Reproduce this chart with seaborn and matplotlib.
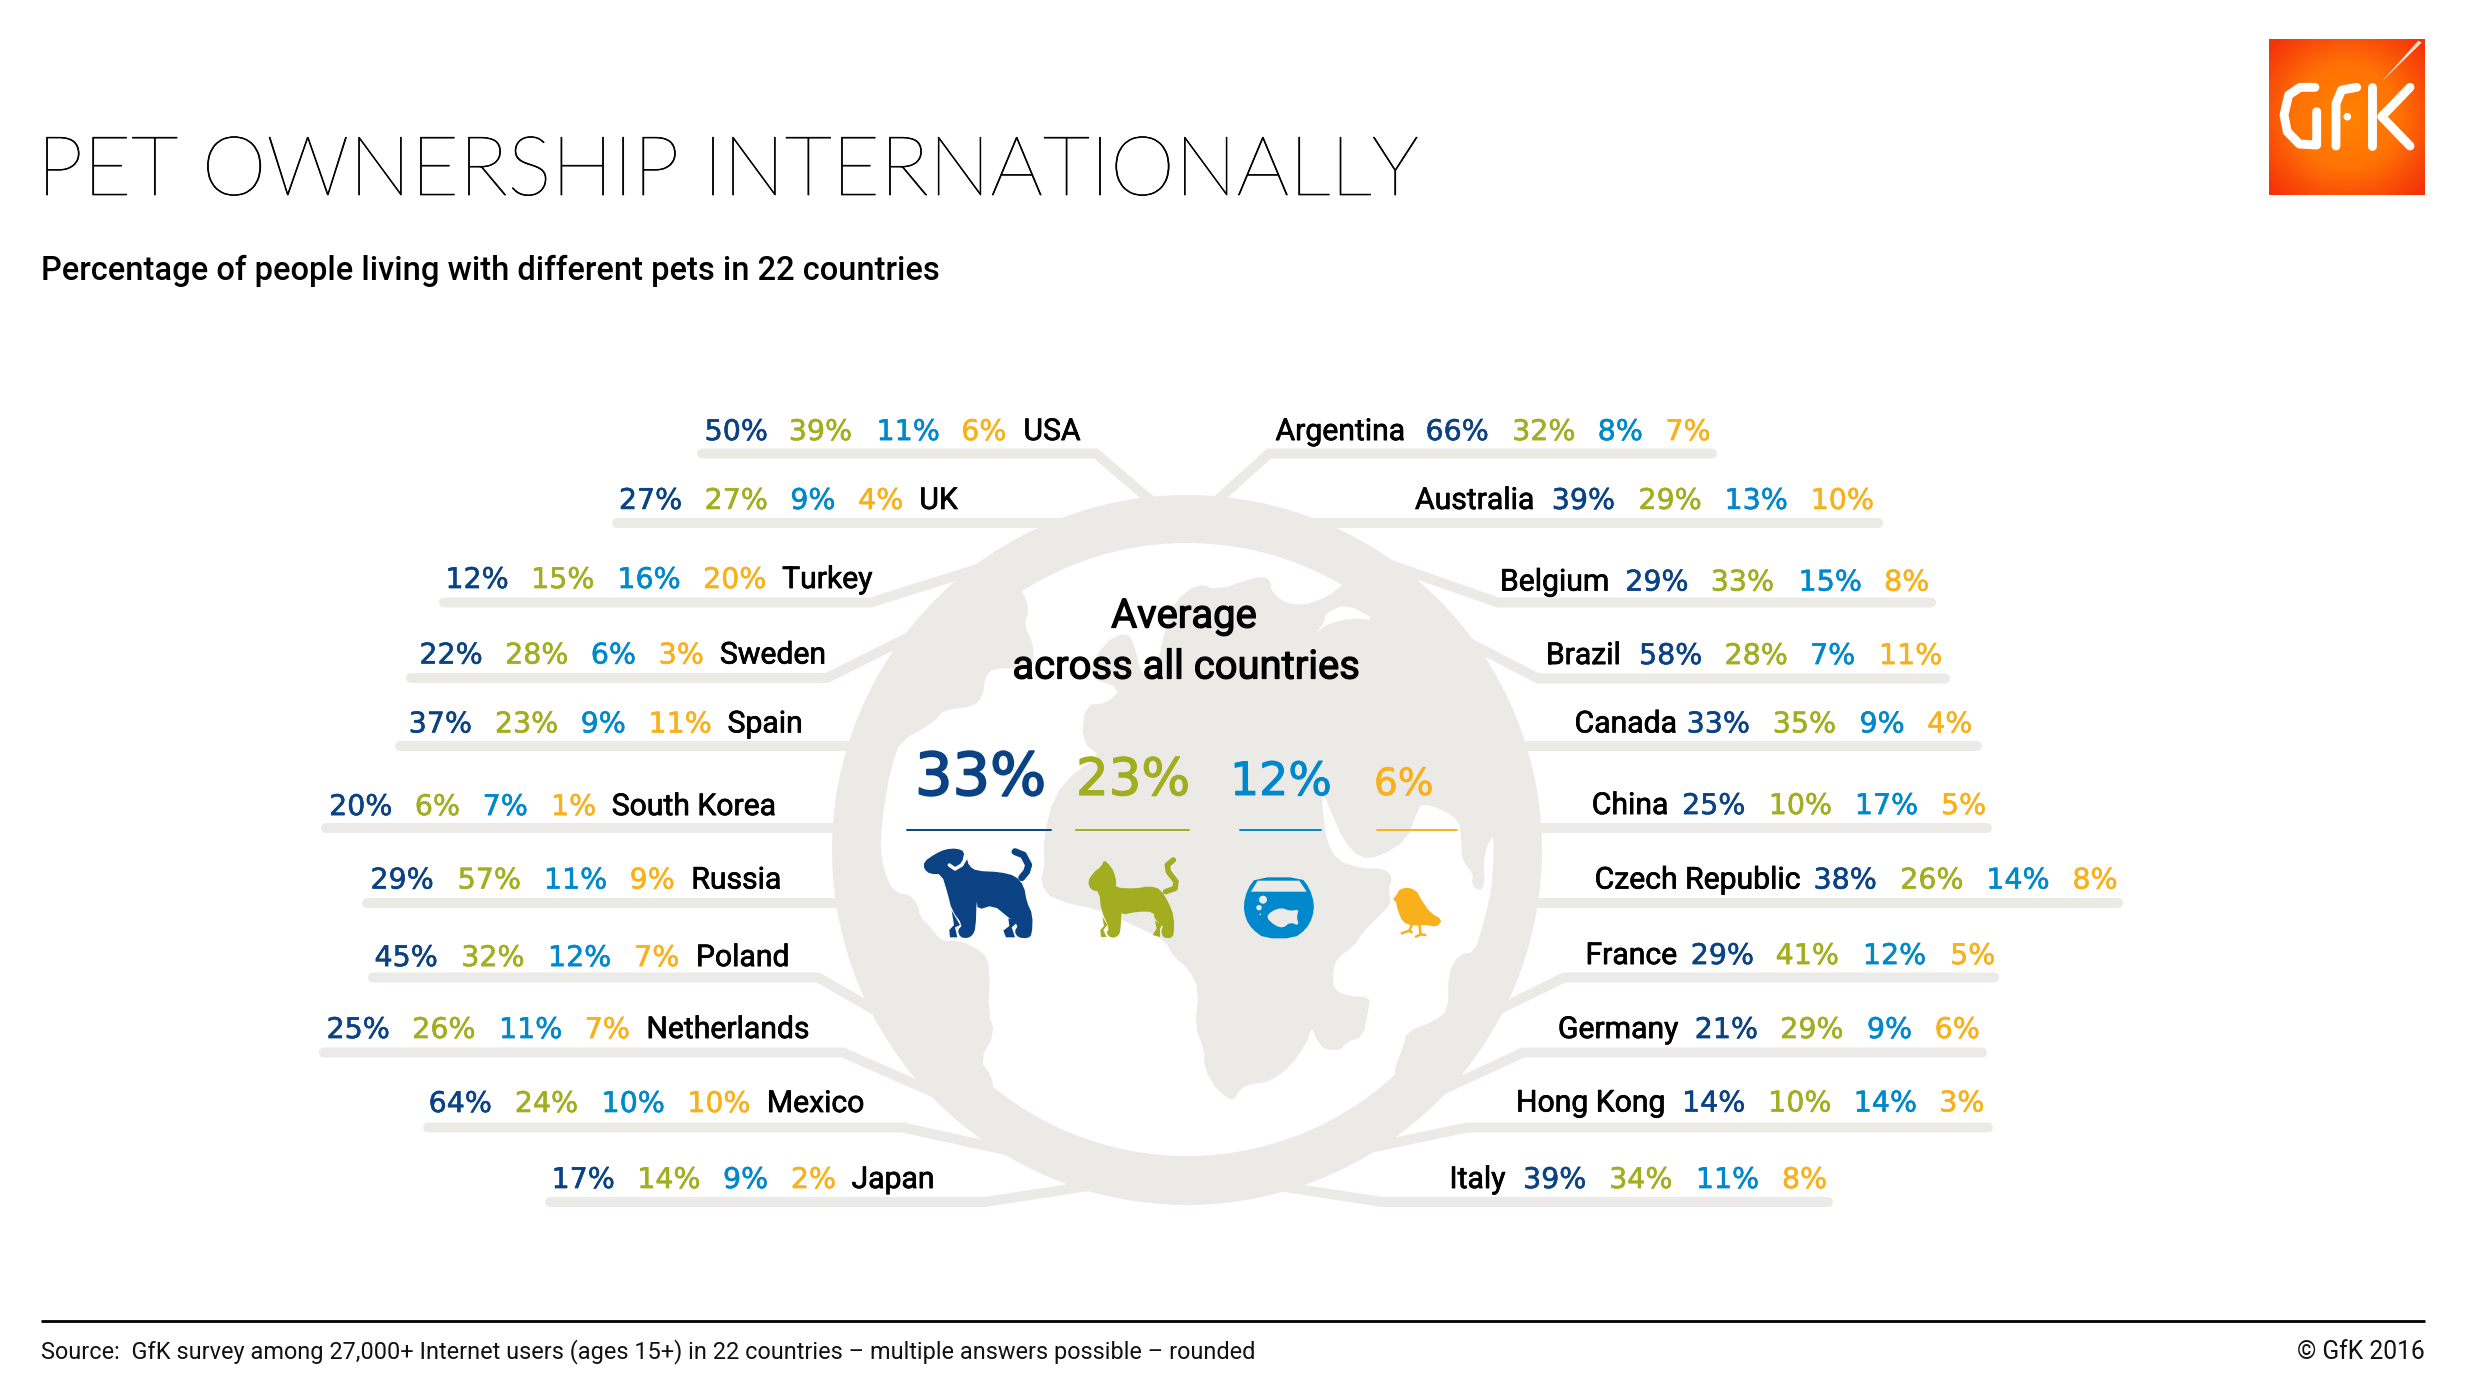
import numpy as np
import pandas as pd
import matplotlib
matplotlib.use("Agg")
import matplotlib.pyplot as plt
import matplotlib.patheffects as pe
from matplotlib.colors import LinearSegmentedColormap
from matplotlib.patches import Circle, Polygon
import seaborn as sns

# ---------- data ----------
countries_left = ["USA", "UK", "Turkey", "Sweden", "Spain", "South Korea", "Russia",
                  "Poland", "Netherlands", "Mexico", "Japan"]
dogs_left = [50, 27, 12, 22, 37, 20, 29, 45, 25, 64, 17]
cats_left = [39, 27, 15, 28, 23, 6, 57, 32, 26, 24, 14]
fish_left = [11, 9, 16, 6, 9, 7, 11, 12, 11, 10, 9]
birds_left = [6, 4, 20, 3, 11, 1, 9, 7, 7, 10, 2]

countries_right = ["Argentina", "Australia", "Belgium", "Brazil", "Canada", "China",
                   "Czech Republic", "France", "Germany", "Hong Kong", "Italy"]
dogs_right = [66, 39, 29, 58, 33, 25, 38, 29, 21, 14, 39]
cats_right = [32, 29, 33, 28, 35, 10, 26, 41, 29, 10, 34]
fish_right = [8, 13, 15, 7, 9, 17, 14, 12, 9, 14, 11]
birds_right = [7, 10, 8, 11, 4, 5, 8, 5, 6, 3, 8]

average_values = [33, 23, 12, 6]

TITLE = "PET OWNERSHIP INTERNATIONALLY"
SUBTITLE = "Percentage of people living with different pets in 22 countries"
SOURCE = "Source:  GfK survey among 27,000+ Internet users (ages 15+) in 22 countries \u2013 multiple answers possible \u2013 rounded"
COPYRIGHT = "\u00a9 GfK 2016"

# ---------- layout and style (separate from the data) ----------
NAVY, GREEN, BLUE, ORANGE = "#0A4284", "#A2AD1F", "#0088CC", "#F9B11B"
PET_COLORS = [NAVY, GREEN, BLUE, ORANGE]
GREY = "#EBEAE7"
W, H = 2478, 1376

sns.set_theme(style="white")
plt.rcParams["font.family"] = ["Noto Sans", "DejaVu Sans"]

fig = plt.figure(figsize=(W / 100, H / 100), dpi=100, facecolor="white")
ax = fig.add_axes([0, 0, 1, 1])


def zl(x): return 300 + x / 1.96
def zr(x): return 1260 + x / 1.742
def zy(y): return 400 + y / 1.96
def z5(p): return [(820 + x / 3, 840 + y / 3) for x, y in p]
def z6(p): return [(1150 + x / 3, 840 + y / 3) for x, y in p]
def z7(p): return [(820 + x / 3, 480 + y / 3) for x, y in p]
def z8(p): return [(1150 + x / 3, 480 + y / 3) for x, y in p]


def chaikin(pts, n=2):
    p = np.asarray(pts, float)
    for _ in range(n):
        q = np.roll(p, -1, axis=0)
        p = np.column_stack([0.75 * p + 0.25 * q, 0.25 * p + 0.75 * q]).reshape(-1, 2)
    return p


def poly(pts, color, z=2, smooth=1):
    ax.add_patch(Polygon(chaikin(pts, smooth) if smooth else pts, closed=True,
                         fc=color, ec="none", zorder=z))


def heavier(width, color):
    return [pe.withStroke(linewidth=width, foreground=color)]


# leaders: (country, [(x, y), ...])
leader_paths = [
    ("USA", [(702, 453.6), (1096, 453.6), (1156, 505)]),
    ("UK", [(617, 523), (1065, 523)]),
    ("Turkey", [(444, 602.5), (871, 602.5), (990, 565)]),
    ("Sweden", [(411, 678), (827, 678), (915, 634)]),
    ("Spain", [(400, 746), (860, 746)]),
    ("South Korea", [(326, 828), (850, 828)]),
    ("Russia", [(367, 903), (850, 903)]),
    ("Poland", [(373, 977.5), (818, 977.5), (885, 1016)]),
    ("Netherlands", [(324, 1052.5), (843, 1052.5), (935, 1093)]),
    ("Mexico", [(428, 1127.5), (903, 1127.5), (1010, 1151)]),
    ("Japan", [(550, 1202), (985, 1202), (1095, 1185)]),
    ("Argentina", [(1712, 453.6), (1269, 453.6), (1212, 505)]),
    ("Australia", [(1878, 523), (1310, 523)]),
    ("Belgium", [(1931, 602.5), (1498, 602.5), (1385, 563)]),
    ("Brazil", [(1945, 678.5), (1538, 678.5), (1460, 638)]),
    ("Canada", [(1977, 746), (1515, 746)]),
    ("China", [(1987, 828), (1525, 828)]),
    ("Czech Republic", [(2118, 903), (1525, 903)]),
    ("France", [(1994, 977.5), (1564, 977.5), (1490, 1014)]),
    ("Germany", [(1982, 1052.5), (1523, 1052.5), (1440, 1091)]),
    ("Hong Kong", [(1988, 1127.5), (1467, 1127.5), (1365, 1149)]),
    ("Italy", [(1828, 1202), (1382, 1202), (1278, 1186)]),
]
leaders = pd.DataFrame(
    [(c, i, x, y) for c, pts in leader_paths for i, (x, y) in enumerate(pts)],
    columns=["country", "step", "x", "y"])

# ring
CX, CY = 1187, 850
ax.add_patch(Circle((CX, CY), 355, fc=GREY, ec="none", zorder=1))
ax.add_patch(Circle((CX, CY - 0.5), 306.5, fc="white", ec="none", zorder=1))

sns.lineplot(data=leaders, x="x", y="y", units="country", estimator=None, sort=False,
             color=GREY, lw=7.2, solid_capstyle="round", solid_joinstyle="miter",
             legend=False, ax=ax, zorder=1)

# continents
land_west = (
    z7([(605, 330), (628, 385), (612, 435), (640, 490), (640, 545), (620, 565), (520, 565),
        (495, 590), (488, 650), (460, 680), (370, 690), (345, 725), (240, 785), (215, 850),
        (195, 960), (183, 1060)])
    + z5([(183, 50), (205, 130), (235, 160), (270, 165), (295, 195), (300, 230), (335, 265),
          (365, 305), (415, 300), (490, 335), (510, 380), (505, 520), (525, 580), (480, 660),
          (515, 710), (520, 745)])
    + [(979, 1106), (902, 1015), (857, 850), (902, 685), (1010, 572)])
poly(land_west, GREY)

land_east = (
    z7([(1060, 370), (1130, 310)])
    + z8([(205, 330), (320, 290), (360, 295), (365, 340), (420, 375), (490, 370), (565, 330)])
    + [(1357, 567), (1472, 685), (1512, 800), (1500, 835)]
    + z6([(1015, 0), (1000, 70), (1005, 130), (990, 155), (965, 135), (970, 100), (935, 60), (935, 0)])
    + z8([(925, 1020), (880, 990), (815, 970), (800, 1000), (770, 1080)])
    + z6([(690, 50), (630, 55), (580, 0)])
    + z8([(545, 1000), (525, 950), (515, 950), (520, 1010), (530, 1080)])
    + z6([(560, 60), (630, 85), (700, 85), (728, 110), (715, 150), (725, 190), (690, 225),
          (640, 275), (610, 320), (560, 355), (548, 400), (552, 450), (600, 470), (660, 470),
          (655, 510), (640, 590), (590, 605), (575, 630), (525, 630), (500, 600), (485, 560),
          (470, 610), (420, 680), (360, 725), (290, 735), (265, 755), (250, 785), (200, 750),
          (165, 690), (160, 620), (135, 560), (147, 450), (115, 385), (70, 350), (45, 300)])
    + z5([(950, 260), (840, 210), (700, 180), (660, 130), (675, 70), (670, 0)])
    + z7([(700, 950), (770, 870), (845, 830), (785, 785), (795, 675), (860, 670), (905, 625),
          (800, 590), (850, 490), (920, 455), (945, 500), (960, 570), (990, 600), (1010, 560),
          (1035, 450)]))
poly(land_east, GREY)
poly(z8([(525, 400), (590, 372), (680, 420), (600, 415), (530, 432), (495, 462), (525, 425)]), "white", z=2)

land_south = (
    z6([(1025, 150), (1000, 250), (975, 335), (925, 345), (895, 400), (895, 510), (850, 545),
        (770, 575), (760, 620), (735, 680), (735, 710)])
    + [(1400, 1100), (1480, 1000), (1510, 900)])
poly(land_south, GREY)

# pet icons
poly(z5([(312, 65), (345, 42), (375, 28), (410, 25), (434, 35), (427, 62), (440, 53), (447, 78),
         (470, 93), (540, 96), (587, 108), (612, 138), (620, 185), (638, 225), (636, 283),
         (624, 295), (595, 293), (583, 275), (595, 255), (565, 232), (520, 195), (473, 210),
         (470, 175), (467, 265), (457, 287), (440, 295), (420, 291), (413, 270), (428, 255),
         (395, 210), (383, 160), (365, 102), (330, 102), (312, 87)]), NAVY, z=4)
poly(z5([(395, 212), (420, 255), (405, 262), (412, 292), (390, 292), (388, 270), (402, 255)]), NAVY, z=4, smooth=0)
poly(z5([(565, 235), (595, 245), (575, 262), (585, 292), (558, 292), (550, 272), (568, 258)]), NAVY, z=4, smooth=0)
ax.plot(*zip(*z5([(585, 35), (610, 45), (626, 75), (620, 95), (605, 113)])), color=NAVY, lw=5, zorder=4)
ax.plot(*zip(*z5([(388, 75), (405, 87), (425, 75), (437, 55)])), color="white", lw=2.5, zorder=5)

poly(z5([(803, 125), (820, 98), (845, 78), (852, 60), (867, 73), (882, 95), (889, 125), (887, 143),
         (945, 146), (990, 138), (1022, 148), (1047, 190), (1062, 230), (1062, 283), (1052, 295),
         (1030, 293), (1023, 275), (1030, 255), (1005, 240), (1000, 215), (950, 215), (905, 225),
         (905, 205), (902, 265), (897, 287), (875, 295), (858, 280), (868, 265), (843, 210),
         (838, 155), (813, 150)]), GREEN, z=4)
poly(z5([(847, 230), (862, 255), (850, 270), (860, 291), (843, 291), (841, 270), (852, 258)]), GREEN, z=4, smooth=0)
poly(z5([(1005, 243), (1028, 252), (1020, 265), (1020, 291), (998, 285), (1010, 265)]), GREEN, z=4, smooth=0)
ax.plot(*zip(*z5([(1037, 155), (1065, 145), (1068, 125), (1045, 95), (1042, 75), (1060, 60)])),
        color=GREEN, lw=4, zorder=4)

poly(z6([(318, 112), (454, 112), (478, 143), (493, 190), (488, 232), (468, 268), (432, 295),
         (343, 295), (307, 268), (287, 237), (280, 195), (292, 148)]), BLUE, z=4)
poly(z6([(303, 155), (323, 122), (448, 122), (470, 155)]), GREY, z=5, smooth=0)
poly(z6([(348, 232), (365, 213), (395, 203), (420, 213), (447, 208), (440, 230), (447, 257),
         (420, 247), (400, 264), (375, 257)]), GREY, z=5)
for (bx, by), br in zip(z6([(339, 179), (327, 203), (331, 223)]), [4, 2.7, 0.8]):
    ax.add_patch(Circle((bx, by), br, fc=GREY, ec="none", zorder=5))

poly(z6([(728, 178), (740, 165), (748, 148), (775, 142), (800, 153), (812, 176), (840, 218),
         (878, 240), (860, 261), (825, 254), (790, 258), (758, 247), (743, 210), (738, 185)]),
     ORANGE, z=4)
for seg in ([(785, 255), (778, 272), (755, 280)], [(808, 255), (812, 283), (798, 290)], [(812, 283), (826, 285)],
            [(778, 272), (785, 277)]):
    ax.plot(*zip(*z6(seg)), color=ORANGE, lw=1.8, zorder=4)

# average underlines
underlines = pd.DataFrame({
    "pet": ["dog", "dog", "cat", "cat", "fish", "fish", "bird", "bird"],
    "x": [907, 1051, 1076, 1189, 1240, 1321, 1377, 1457],
    "y": [830] * 8})
sns.lineplot(data=underlines, x="x", y="y", hue="pet", units="pet", estimator=None, sort=False,
             palette=dict(zip(["dog", "cat", "fish", "bird"], PET_COLORS)),
             lw=1.4, legend=False, ax=ax, zorder=3)

# row labels (text positions per row)
left_row_y = [57, 192, 347, 495, 630, 792, 936, 1088, 1229, 1374, 1523]
left_x = [
    [795, 960, 1132, 1298, 1418], [627, 795, 963, 1096, 1214], [287, 455, 624, 792, 945],
    [236, 404, 572, 705, 823], [215, 384, 552, 685, 838], [59, 227, 360, 494, 611],
    [140, 311, 480, 648, 767], [148, 318, 488, 657, 776], [54, 222, 392, 560, 679],
    [254, 423, 593, 761, 915], [495, 663, 831, 964, 1081]]
right_row_y = [57, 192, 352, 496, 630, 790, 936, 1084, 1229, 1373, 1523]
right_x = [
    [27, 290, 441, 590, 708], [270, 510, 661, 811, 961], [418, 638, 787, 940, 1089],
    [498, 662, 811, 960, 1080], [548, 745, 895, 1046, 1164], [578, 737, 888, 1038, 1188],
    [583, 966, 1117, 1267, 1417], [567, 752, 900, 1052, 1204], [519, 759, 908, 1059, 1177],
    [446, 737, 887, 1036, 1185], [330, 460, 610, 761, 911]]
PCT_SIZE = 20.5
NAME_SIZE = 21.7
NAME_FONT = dict(family=["Roboto", "DejaVu Sans"], color="#000000",
                 path_effects=heavier(0.5, "#000000"))
PCT_SHIFT = -1


def label(x, y, s, color):
    ax.text(x + PCT_SHIFT, y, s, color=color, fontsize=PCT_SIZE, family="DejaVu Sans",
            ha="left", va="baseline", zorder=6, path_effects=heavier(0.4, color))


left_vals = zip(countries_left, dogs_left, cats_left, fish_left, birds_left)
for (name, *vals), yz, xs in zip(left_vals, left_row_y, left_x):
    y = zy(yz) + 11
    for v, x, c in zip(vals, xs[:4], PET_COLORS):
        label(zl(x), y, f"{v}%", c)
    ax.text(zl(xs[4]), y, name, fontsize=NAME_SIZE, ha="left", va="baseline", zorder=6, **NAME_FONT)

right_vals = zip(countries_right, dogs_right, cats_right, fish_right, birds_right)
for (name, *vals), yz, xs in zip(right_vals, right_row_y, right_x):
    y = zy(yz) + 11
    ax.text(zr(xs[0]), y, name, fontsize=NAME_SIZE, ha="left", va="baseline", zorder=6, **NAME_FONT)
    for v, x, c in zip(vals, xs[1:], PET_COLORS):
        label(zr(x), y, f"{v}%", c)

# average block
ax.text(1184, 616, "Average", fontsize=28.8, ha="center", va="center", zorder=6,
        family=["Roboto", "DejaVu Sans"], color="black", path_effects=heavier(0.9, "black"))
ax.text(1186, 667, "across all countries", fontsize=28.8, ha="center", va="center", zorder=6,
        family=["Roboto", "DejaVu Sans"], color="black", path_effects=heavier(0.9, "black"))
avg_x = [915, 1076, 1230, 1374]
avg_base = [795, 795, 795, 795]
avg_size = [42.5, 37, 33, 27]
avg_weight = [1.3, 0.9, 0.7, 0.5]
for v, x, b, s, c, k in zip(average_values, avg_x, avg_base, avg_size, PET_COLORS, avg_weight):
    ax.text(x, b, f"{v}%", fontsize=s, color=c, family="DejaVu Sans", ha="left", va="baseline",
            zorder=6, path_effects=heavier(k, c))

# header and footer
renderer = fig.canvas.get_renderer()


def fit(t, width):
    t.set_fontsize(t.get_fontsize() * width / t.get_window_extent(renderer).width)


title = ax.text(37, 195, TITLE, fontsize=60, color="black", ha="left", va="baseline",
                family=["Lato", "DejaVu Sans"], weight="light", path_effects=heavier(0.5, "black"))
fit(title, 1381)
sub = ax.text(41, 271, SUBTITLE, fontsize=20, color="black", ha="left", va="center",
              family=["Roboto", "DejaVu Sans"], weight="medium")
fit(sub, 898)
src = ax.text(41, 1352, SOURCE, fontsize=15, color="#111111", ha="left", va="center",
              family=["Roboto", "DejaVu Sans"])
fit(src, 1211)
cpr = ax.text(2425, 1352, COPYRIGHT, fontsize=15, color="#111111", ha="right", va="center",
              family=["Roboto", "DejaVu Sans"])
fit(cpr, 128)
ax.plot([41, 2425], [1320.5, 1320.5], color="black", lw=2, solid_capstyle="butt", zorder=3)

# logo
gx, gy = np.meshgrid(np.linspace(-1, 1, 160), np.linspace(-1, 1, 160))
grad = np.clip(np.hypot(gx, gy) / 1.35, 0, 1)
logo_cmap = LinearSegmentedColormap.from_list("logo", ["#FF8400", "#FF7205", "#F5320A"])
ax.imshow(grad, extent=(2269, 2425, 195, 39), cmap=logo_cmap, aspect="auto", zorder=2, vmin=0, vmax=1)


def zl3(p): return [(2200 + x / 3, y / 3) for x, y in p]


poly(zl3([(545, 245), (655, 122), (665, 128)]), "#FFE2D0", z=3, smooth=0)
for seg in ([(345, 262), (300, 262), (266, 285), (252, 345), (262, 395), (298, 432), (350, 435), (350, 335)],
            [(408, 438), (408, 310), (425, 270), (470, 262)],
            [(515, 260), (515, 438)],
            [(630, 262), (545, 350), (630, 438)]):
    ax.plot(*zip(*zl3(seg)), color="white", lw=6.4, solid_capstyle="round", solid_joinstyle="round", zorder=4)
ax.add_patch(Circle(zl3([(442, 350)])[0], 3.8, fc="white", ec="none", zorder=4))

ax.set_xlim(0, W)
ax.set_ylim(H, 0)
ax.axis("off")
fig.savefig("out.png", dpi=100, facecolor="white")
